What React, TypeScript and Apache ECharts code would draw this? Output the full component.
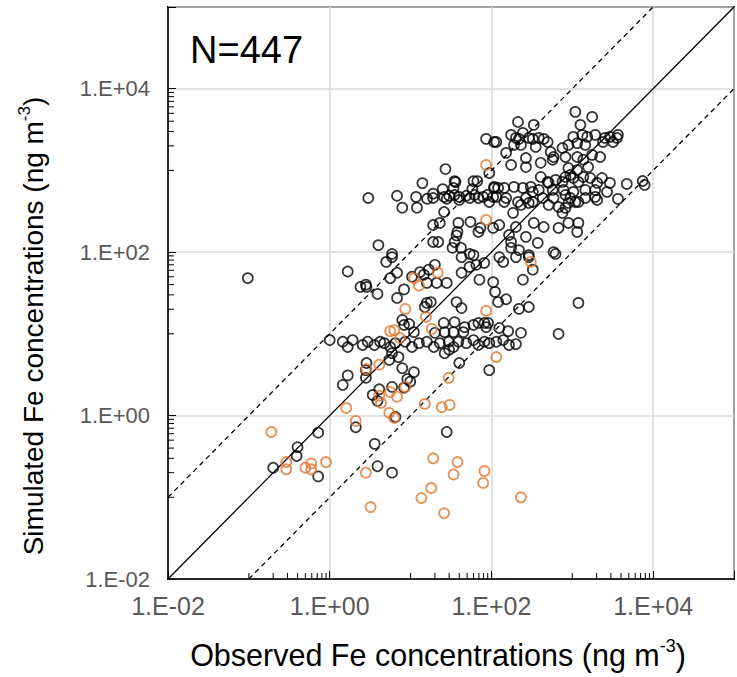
import React, { useEffect, useRef } from 'react';
import * as echarts from 'echarts';

// Observed / simulated Fe concentrations (ng m-3)
const blackObs = [
  86, 108, 94, 27, 14, 35, 36, 60, 67, 34, 25, 58, 108, 3.0, 6.8, 7.9, 11.7, 12, 16, 19,
  19, 26, 28, 30, 35, 40, 40, 49, 54, 62, 69, 79, 89, 94, 105, 26, 19, 23, 39, 55,
  69, 105, 38, 37, 4.0, 19, 22, 35, 33, 42, 5.9, 54, 1090, 1760, 213, 334, 1260, 245, 175, 115,
  201, 219, 290, 325, 385, 443, 496, 190, 232, 353, 1030, 1330, 1530, 1920, 2540, 2920, 3670, 3560, 3190, 2400,
  1150, 1450, 895, 756, 152, 540, 587, 571, 823, 1150, 1370, 1760, 2210, 267, 267, 175, 407, 1570, 895, 1150,
  407, 496, 510, 621, 756, 823, 947, 1030, 1190, 1370, 1670, 2030, 2330, 2920, 4720, 7420, 7850, 108, 121, 144,
  190, 245, 307, 325, 385, 571, 778, 1030, 1450, 1920, 2690, 115, 152, 213, 267, 325, 431, 587, 823, 947,
  1090, 1450, 1920, 2030, 144, 232, 290, 510, 676, 895, 1190, 3670, 185, 756, 823, 125, 201, 334, 443, 676,
  895, 1190, 1150, 165, 267, 374, 175, 175, 219, 587, 290, 621, 1.67, 5.0, 5.9, 5.6, 6.8, 2.4, 2.8, 2.85,
  3.9, 6.8, 8.3, 10.4, 13.1, 14.6, 16.8, 20, 15.9, 21, 28, 42.7, 53.5, 65, 81.6, 71, 105, 60, 42.7, 15.9,
  17.8, 37, 42.7, 7.9, 9.6, 11, 25.7, 35, 60, 82, 20, 26.4, 34, 45, 1.0, 1.45, 1.67, 1.92, 2.55, 2.95,
  3.57, 4.2, 4.73, 5.6, 6.46, 8.56, 10.4, 12.7, 15.9, 19.4, 23, 29.6, 34, 39, 49, 60, 69, 82, 94, 26.4,
  5.9, 7.1, 5.45, 40, 94, 7.9, 11, 9.1, 1.67, 1.45, 2.8, 3.4, 5.9, 15, 8.3, 2.85, 2.8, 125, 140, 201,
  290, 325, 245, 111, 121, 152, 219, 290, 1190, 125, 161, 232, 676, 91, 115, 140, 165, 201, 46.5, 69,
  86, 30, 73, 4.1, 3.9, 9.9, 8.3, 2.1, 6.5, 3.6, 3.9, 5.9, 28, 0.72, 0.40, 0.39, 0.20, 0.72, 0.097,
];
const blackSim = [
  2430, 2230, 930, 1040, 700, 740, 720, 740, 740, 610, 590, 590, 610, 460, 490, 350, 474, 350, 450, 520,
  460, 474, 450, 490, 500, 474, 436, 490, 460, 500, 460, 474, 500, 411, 474, 310, 215, 228, 228, 235,
  177, 198, 177, 160, 122, 133, 133, 133, 113, 113, 95, 95, 5200, 4520, 3920, 3610, 3610, 2880, 2720, 2230,
  2500, 2430, 2500, 2430, 2500, 2430, 2230, 2050, 2050, 1940, 2570, 2720, 2570, 2720, 2500, 2570, 2720, 2500, 2230, 2230,
  2160, 2050, 2050, 1880, 1640, 1680, 1460, 1350, 1460, 1460, 1350, 1550, 1460, 1420, 1100, 1170, 1240, 1100, 1070, 1010,
  832, 723, 703, 766, 723, 832, 881, 809, 723, 832, 809, 703, 809, 703, 684, 743, 664, 628, 611, 611,
  628, 611, 628, 546, 577, 577, 577, 546, 577, 577, 546, 474, 460, 411, 460, 411, 460, 460, 501, 460,
  411, 460, 474, 436, 411, 378, 400, 378, 357, 400, 411, 448, 302, 302, 348, 215, 203, 228, 203, 198,
  228, 228, 177, 162, 154, 130, 133, 113, 106, 100, 92, 95, 58, 76, 87, 48, 56, 37.5, 40, 37.5,
  30.8, 27.5, 35, 50, 57, 53, 61, 70, 42, 42, 42, 56, 66, 70, 74, 46, 43, 92, 87, 23.9,
  24.5, 24.5, 20.7, 14.8, 13.2, 10.5, 13.6, 13.9, 12.9, 13.6, 10.3, 10.5, 10.5, 10.5, 8.4, 8.0, 6.9, 8.4, 7.3, 8.0,
  7.3, 8.0, 7.7, 6.9, 7.7, 8.0, 6.9, 7.7, 8.0, 6.9, 7.7, 8.0, 6.9, 8.0, 7.7, 8.4, 7.3, 8.0, 7.7, 5.8,
  5.8, 5.2, 4.8, 4.4, 3.6, 3.8, 3.4, 2.8, 3.1, 2.37, 2.9, 1.79, 2.24, 21.3, 12.9, 4.4, 3.6, 87, 76, 87,
  87, 61, 46, 32.6, 24.5, 26.5, 20.2, 21.3, 23.9, 11.8, 10.8, 10.3, 10, 13.6, 8.0, 8.4, 7.3, 7.5, 12.1, 13.6,
  12.1, 6.4, 198, 2.1, 1.51, 2.6, 2.2, 0.72, 0.96, 0.45, 0.24, 0.20, 0.63, 0.62, 0.41, 0.32, 0.23, 0.18, 48,
];
const orangeObs = [
  86, 86, 11, 12.7, 21.7, 8.6, 15.5, 18.3, 86, 5.6, 6.3, 7.4, 307, 115, 2.85, 4.1, 29.6, 4.1, 4.3, 5.6,
  6.8, 8.6, 15, 24.3, 30.4, 1.6, 2.1, 5.45, 6.3, 19, 18, 13.6, 3.2, 2.8, 26, 0.19, 0.29, 0.29, 0.5, 0.59,
  0.59, 0.9, 38, 34, 82, 79, 232,
];
const orangeSim = [
  1170, 248, 48, 39, 56, 20.2, 16.1, 11.5, 19.1, 10.8, 11.1, 8.9, 76, 5.2, 3.7, 4.2, 2.9, 1.75, 1.43, 1.95,
  1.7, 2.24, 1.39, 1.27, 1.35, 1.24, 0.86, 1.08, 0.94, 0.30, 0.13, 0.098, 0.076, 0.20, 0.064, 0.63, 0.27, 0.22, 0.23, 0.26,
  0.22, 0.27, 0.27, 0.19, 0.21, 0.15, 0.10,
];

const AXIS_MIN = 0.01;
const AXIS_MAX = 100000;
const minorTicks = [
  0.1, 0.2, 0.3, 0.4, 0.5, 0.6, 0.7, 0.8, 0.9,
  10, 20, 30, 40, 50, 60, 70, 80, 90,
  1000, 2000, 3000, 4000, 5000, 6000, 7000, 8000, 9000,
];
const oneToOne = [[0.01, 0.01], [100000, 100000]];
const upperLine = [[0.01, 0.1], [10000, 100000]];
const lowerLine = [[0.1, 0.01], [100000, 10000]];

const FONT = '"Liberation Sans", Arial, sans-serif';

const fmt = (v: number) => {
  const e = Math.round(Math.log10(v));
  if (e > 4) return '';
  return '1.E' + (e < 0 ? '-' : '+') + String(Math.abs(e)).padStart(2, '0');
};

const makeRich = (size: number) => ({
  a: { fontSize: size, lineHeight: size + 6, color: '#000', fontFamily: FONT },
  s: { fontSize: Math.round(size * 0.6), lineHeight: Math.round(size * 0.6), color: '#000', fontFamily: FONT, verticalAlign: 'top' },
});

export default function App() {
  const ref = useRef<HTMLDivElement>(null);
  useEffect(() => {
    if (!ref.current) return;
    const chart = echarts.init(ref.current, undefined, { renderer: 'svg' });
    const axisCommon = {
      type: 'log',
      logBase: 10,
      min: AXIS_MIN,
      max: AXIS_MAX,
      interval: 2,
      nameLocation: 'middle',
      axisLine: { show: true, onZero: false, lineStyle: { color: '#000', width: 1.5 } },
      axisTick: { show: true, inside: true, length: 8, lineStyle: { color: '#000', width: 1 } },
      splitLine: { show: true, lineStyle: { color: '#d9d9d9', width: 1.5 } },
      axisLabel: { formatter: fmt, color: '#595959', fontFamily: FONT },
    };
    chart.setOption({
      animation: false,
      grid: { left: 168, top: 7, right: -3, bottom: 98, show: true, borderColor: '#000', borderWidth: 2, backgroundColor: 'transparent' },
      xAxis: {
        ...axisCommon,
        name: '{a|Observed Fe concentrations (ng m}{s|-3}{a|)}',
        nameGap: 58,
        nameTextStyle: { rich: makeRich(30.5), padding: [0, 26, 0, 0] },
        axisLabel: { ...axisCommon.axisLabel, fontSize: 25, margin: 14 },
      },
      yAxis: {
        ...axisCommon,
        name: '{a|Simulated Fe concentrations (ng m}{s|-3}{a|)}',
        nameGap: 118,
        nameTextStyle: { rich: makeRich(28), padding: [0, 66, 0, 0] },
        axisLabel: { ...axisCommon.axisLabel, fontSize: 22, margin: 18 },
      },
      graphic: [
        {
          type: 'text',
          x: 190,
          y: 50,
          style: { text: 'N=447', font: `38px ${FONT}`, fill: '#000', verticalAlign: 'middle', align: 'left' },
        },
      ],
      series: [
        {
          type: 'line', data: oneToOne, symbol: 'none', silent: true, z: 2,
          lineStyle: { color: '#000', width: 1.3 },
        },
        {
          type: 'line', data: upperLine, symbol: 'none', silent: true, z: 2,
          lineStyle: { color: '#000', width: 1.3, type: [5, 4] },
        },
        {
          type: 'line', data: lowerLine, symbol: 'none', silent: true, z: 2,
          lineStyle: { color: '#000', width: 1.3, type: [5, 4] },
        },
        {
          type: 'scatter', symbol: 'circle', symbolSize: 10, z: 3,
          data: blackObs.map((x, i) => [x, blackSim[i]]),
          itemStyle: { color: 'rgba(255,255,255,0)', borderColor: '#000', borderWidth: 1.7 },
        },
        {
          type: 'scatter', symbol: 'circle', symbolSize: 10, z: 4,
          data: orangeObs.map((x, i) => [x, orangeSim[i]]),
          itemStyle: { color: 'rgba(255,255,255,0)', borderColor: '#E2772F', borderWidth: 1.8 },
        },
        {
          type: 'custom', silent: true, z: 5, clip: false,
          data: minorTicks.map((v) => [v, AXIS_MIN]),
          renderItem: (_p: any, api: any) => {
            const p = api.coord([api.value(0), AXIS_MIN]);
            return { type: 'line', shape: { x1: p[0], y1: p[1], x2: p[0], y2: p[1] - 6 }, style: { stroke: '#000', lineWidth: 1 } };
          },
        },
        {
          type: 'custom', silent: true, z: 5, clip: false,
          data: minorTicks.map((v) => [AXIS_MIN, v]),
          renderItem: (_p: any, api: any) => {
            const p = api.coord([AXIS_MIN, api.value(1)]);
            return { type: 'line', shape: { x1: p[0], y1: p[1], x2: p[0] + 6, y2: p[1] }, style: { stroke: '#000', lineWidth: 1 } };
          },
        },
      ],
    });
    return () => chart.dispose();
  }, []);
  return <div ref={ref} style={{ position: 'fixed', left: 0, top: 0, width: 737, height: 677, background: '#fff' }} />;
}
